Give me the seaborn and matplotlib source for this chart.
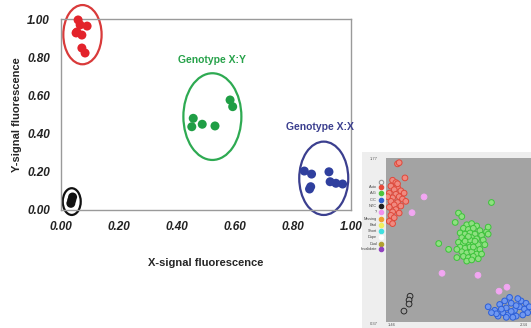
import pandas as pd
import matplotlib
matplotlib.use("Agg")
import matplotlib.pyplot as plt
from matplotlib.patches import Ellipse, Rectangle
import seaborn as sns

# main cluster plot
red_x = [0.059, 0.066, 0.090, 0.055, 0.072, 0.052, 0.072, 0.083]
red_y = [0.995, 0.969, 0.963, 0.932, 0.916, 0.927, 0.848, 0.822]
black_x = [0.034, 0.037, 0.040]
black_y = [0.035, 0.052, 0.068]
green_x = [0.456, 0.451, 0.487, 0.531, 0.583, 0.592]
green_y = [0.480, 0.436, 0.449, 0.440, 0.576, 0.541]
blue_x = [0.839, 0.864, 0.861, 0.857, 0.924, 0.928, 0.948, 0.971]
blue_y = [0.204, 0.188, 0.122, 0.110, 0.200, 0.148, 0.140, 0.136]

# ring around each group: centre x, centre y, width, height
rings = {
    "red": (0.074, 0.918, 0.132, 0.31),
    "black": (0.037, 0.044, 0.062, 0.14),
    "green": (0.522, 0.489, 0.20, 0.454),
    "blue": (0.906, 0.166, 0.169, 0.384),
}
ticks = [0.0, 0.2, 0.4, 0.6, 0.8, 1.0]
tick_labels = ["0.00", "0.20", "0.40", "0.60", "0.80", "1.00"]

# inset (genotyping software screenshot)
in_red_x = [1.50, 1.52, 1.49, 1.53, 1.51, 1.55, 1.48, 1.52, 1.54, 1.50, 1.56, 1.49, 1.53, 1.51, 1.55,
            1.48, 1.52, 1.50, 1.54, 1.49, 1.51, 1.48, 1.50, 1.57, 1.58, 1.575, 1.53, 1.54, 1.47, 1.53]
in_red_y = [1.58, 1.56, 1.53, 1.52, 1.50, 1.49, 1.47, 1.46, 1.44, 1.43, 1.42, 1.40, 1.39, 1.37, 1.36,
            1.35, 1.33, 1.31, 1.30, 1.28, 1.26, 1.23, 1.21, 1.47, 1.40, 1.60, 1.72, 1.73, 1.44, 1.55]
in_green_x = [1.95, 1.98, 2.01, 1.93, 1.96, 1.99, 2.03, 1.91, 1.94, 1.97, 2.00, 2.04, 1.92, 1.95, 1.98,
              2.01, 2.05, 1.90, 1.93, 1.96, 1.99, 2.02, 2.06, 1.91, 1.94, 1.97, 2.00, 2.03, 1.92, 1.95,
              1.98, 2.01, 2.04, 1.93, 1.96, 1.99, 2.02, 1.95, 1.98, 1.97, 1.96, 2.00, 1.94, 1.99, 2.07,
              2.08, 1.89, 2.10, 1.90, 1.92, 1.78, 1.84, 2.08, 1.89, 1.88]
in_green_y = [1.20, 1.21, 1.19, 1.17, 1.16, 1.17, 1.15, 1.13, 1.12, 1.13, 1.12, 1.11, 1.09, 1.08, 1.09,
              1.08, 1.07, 1.05, 1.04, 1.05, 1.04, 1.03, 1.03, 1.01, 1.00, 1.01, 0.99, 0.99, 0.97, 0.96,
              0.97, 0.95, 0.95, 0.93, 0.92, 0.93, 0.91, 0.89, 0.90, 1.07, 1.10, 1.06, 1.06, 1.01, 1.14,
              1.12, 0.99, 1.39, 1.30, 1.27, 1.04, 0.99, 1.18, 0.92, 1.22]
in_blue_x = [2.08, 2.12, 2.15, 2.17, 2.19, 2.20, 2.22, 2.24, 2.25, 2.27, 2.28, 2.30, 2.31, 2.32,
             2.14, 2.18, 2.21, 2.23, 2.26, 2.29, 2.16, 2.13, 2.22, 2.25, 2.19, 2.10, 2.33]
in_blue_y = [0.50, 0.47, 0.52, 0.45, 0.49, 0.43, 0.53, 0.47, 0.42, 0.50, 0.55, 0.48, 0.53, 0.45,
             0.42, 0.55, 0.58, 0.41, 0.57, 0.43, 0.48, 0.44, 0.46, 0.51, 0.41, 0.45, 0.50]
in_black_x = [1.606, 1.600, 1.600, 1.569]
in_black_y = [0.590, 0.557, 0.523, 0.463]
in_pink_x = [1.691, 1.618, 1.800, 2.018, 2.146, 2.194]
in_pink_y = [1.438, 1.303, 0.786, 0.769, 0.633, 0.667]
legend_labels = ["", "Auto", "A:G", "C:C", "NTC", "?", "Missing", "Bad", "Short", "Dupe", "Dual", "Invalidate"]
legend_colors = ["#c8c8c8", "#e84a3a", "#4cc43c", "#3060d0", "#202020", "#f090f0", "#f0a030",
                 "#f0f060", "#40e0e0", "#ffffff", "#b0a030", "#9040c0"]

main = pd.DataFrame({
    "x": red_x + black_x + green_x + blue_x,
    "y": red_y + black_y + green_y + blue_y,
    "group": ["red"] * len(red_x) + ["black"] * len(black_x)
             + ["green"] * len(green_x) + ["blue"] * len(blue_x),
})
main_pal = {"red": "#e3232b", "black": "#111111", "green": "#1f9e45", "blue": "#2f3f9e"}
ring_pal = {"red": "#d93a3a", "black": "#111111", "green": "#2eaa52", "blue": "#3b3f8f"}

inset = pd.DataFrame({
    "x": in_red_x + in_green_x + in_blue_x + in_black_x + in_pink_x,
    "y": in_red_y + in_green_y + in_blue_y + in_black_y + in_pink_y,
    "call": ["red"] * len(in_red_x) + ["green"] * len(in_green_x) + ["blue"] * len(in_blue_x)
            + ["black"] * len(in_black_x) + ["pink"] * len(in_pink_x),
})
in_edge = {"red": "#e0483a", "green": "#3cc43a", "blue": "#2c5fd8", "black": "#2a2a2a", "pink": "#f2a6f2"}
in_face = {"red": "#f08a80", "green": "#8ee080", "blue": "#7098f0", "black": "#a3a3a3", "pink": "#f2a6f2"}

sns.set_style("white")
plt.rcParams["font.family"] = ["Liberation Sans", "DejaVu Sans"]

fig = plt.figure(figsize=(5.31, 3.28), dpi=100)
ax = fig.add_axes([61 / 531, 118 / 328, 290 / 531, 191 / 328])

sns.scatterplot(data=main, x="x", y="y", hue="group", palette=main_pal, s=42,
                edgecolor="none", legend=False, ax=ax, clip_on=False, zorder=3)

for key, (cx, cy, w, h) in rings.items():
    ax.add_patch(Ellipse((cx, cy), w, h, fill=False, edgecolor=ring_pal[key],
                         linewidth=1.6, clip_on=False, zorder=2))

ax.text(0.52, 0.785, "Genotype X:Y", color="#27a24a", fontsize=7.5, fontweight="bold",
        ha="center", va="center")
ax.text(0.893, 0.433, "Genotype X:X", color="#3b3f8f", fontsize=7.5, fontweight="bold",
        ha="center", va="center")

ax.set_xlim(0, 1)
ax.set_ylim(0, 1)
ax.set_xticks(ticks)
ax.set_yticks(ticks)
ax.set_xticklabels(tick_labels, fontsize=8.5, fontweight="bold", fontstyle="italic", color="#222222")
ax.set_yticklabels(tick_labels, fontsize=8.5, fontweight="bold", fontstyle="italic", color="#222222")
ax.tick_params(length=3, width=0.8, color="#999999", pad=5)
for sp in ax.spines.values():
    sp.set_color("#9a9a9a")
    sp.set_linewidth(1.0)
ax.set_xlabel("X-signal fluorescence", fontsize=8, fontweight="bold", labelpad=18)
ax.set_ylabel("Y-signal fluorescence", fontsize=8, fontweight="bold", labelpad=4)

# inset panel
fig.patches.append(Rectangle((362 / 531, 0), 169 / 531, 176 / 328, transform=fig.transFigure,
                             facecolor="#eeeeee", edgecolor="none", zorder=-5))
ax2 = fig.add_axes([386 / 531, 6 / 328, 145 / 531, 164 / 328])
ax2.set_zorder(2)
ax2.set_facecolor("#a3a3a3")
sns.scatterplot(data=inset, x="x", y="y", hue="call", palette=in_face, s=17,
                linewidth=0.7, legend=False, ax=ax2)
for coll in ax2.collections:
    coll.set_edgecolors([in_edge[c] for c in inset["call"]])
ax2.set_xlim(1.46, 2.34)
ax2.set_ylim(0.37, 1.77)
ax2.set_xticks([])
ax2.set_yticks([])
ax2.set_xlabel("")
ax2.set_ylabel("")
for sp in ax2.spines.values():
    sp.set_visible(False)

fig.text(378 / 531, 1 - 159 / 328, "1.77", fontsize=3, color="#555555", ha="right", va="center")
fig.text(378 / 531, 1 - 324 / 328, "0.37", fontsize=3, color="#555555", ha="right", va="center")
fig.text(388 / 531, 1 - 325 / 328, "1.46", fontsize=3, color="#555555", ha="left", va="center")
fig.text(528 / 531, 1 - 325 / 328, "2.34", fontsize=3, color="#555555", ha="right", va="center")

leg_y = [181.7, 187.3, 193.3, 200, 206, 212, 218.7, 225, 231, 237.3, 243.7, 249.3]
for lab, col, py in zip(legend_labels, legend_colors, leg_y):
    fig.text(377 / 531, 1 - py / 328, lab, fontsize=2.8, color="#444444", ha="right", va="center")
    fig.add_artist(plt.Line2D([381 / 531], [1 - py / 328], marker="o", markersize=3.2,
                              markerfacecolor="none" if lab == "" else col,
                              markeredgecolor="#999999" if lab == "" else col,
                              markeredgewidth=0.8, transform=fig.transFigure))

fig.savefig("out.png", dpi=100)
